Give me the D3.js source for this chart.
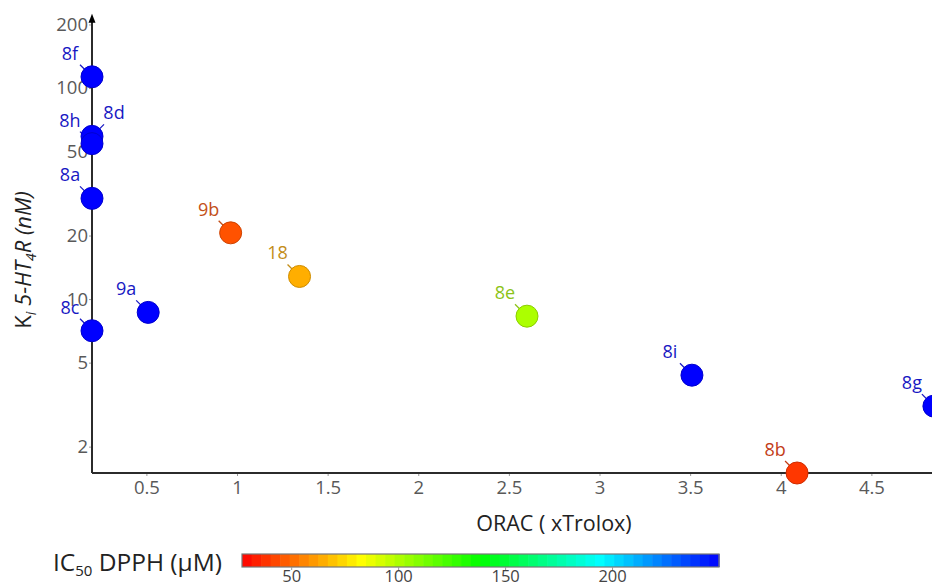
<!DOCTYPE html>
<html><head><meta charset="utf-8">
<script src="https://cdn.jsdelivr.net/npm/d3@7"></script>
<style>
html,body{margin:0;padding:0;background:#fff;}
svg{display:block;font-family:"Open Sans",sans-serif;}
</style></head>
<body>
<svg id="chart" width="932" height="587"></svg>
<script>
// ---- data ----
const compounds = ["8f","8d","8h","8a","9b","18","9a","8c","8e","8i","8g","8b"];
const orac      = [0.2, 0.2, 0.2, 0.2, 0.965, 1.345, 0.51, 0.2, 2.60, 3.51, 4.845, 4.09];
const ki        = [113, 59, 54.5, 30, 20.6, 12.8, 8.65, 7.08, 8.3, 4.36, 3.11, 1.5];
const dpph      = [250, 250, 250, 250, 45, 65, 250, 250, 101, 250, 250, 39];
const labelSide = ["left","right","left","left","left","left","left","left","left","left","left","left"];
const xTicks = [0.5, 1, 1.5, 2, 2.5, 3, 3.5, 4, 4.5];
const yTicks = [2, 5, 10, 20, 50, 100, 200];
const cbTicks = [50, 100, 150, 200];

const svg = d3.select("#chart");
const x = d3.scaleLinear().domain([0.2, 5]).range([92, 962]);
const y = d3.scaleLog().domain([1.5, 100]).range([473, 88]);
const dMin = 27, dMax = 250;
const color = v => d3.hsl(240 * (Math.min(Math.max(v, dMin), dMax) - dMin) / (dMax - dMin), 1, 0.5).toString();
const labColor = v => { const h = d3.hsl(color(v)); h.s = 0.78; h.l = 0.43; return h.toString(); };

// axes
const gx = svg.append("g").attr("transform", `translate(0,${y(1.5)})`)
  .call(d3.axisBottom(x).tickValues(xTicks).tickFormat(d3.format("")).tickSize(3).tickPadding(5));
gx.select(".domain").remove();
gx.selectAll("line").attr("stroke", "#999");
gx.selectAll("text").attr("fill", "#595959").style("font-size", "18.5px").style("font-family", "Open Sans");

const gy = svg.append("g").attr("transform", `translate(${x(0.2)},0)`)
  .call(d3.axisLeft(y).tickValues(yTicks).tickFormat(d3.format("")).tickSize(3).tickPadding(1));
gy.select(".domain").remove();
gy.selectAll("line").attr("stroke", "#999");
gy.selectAll("text").attr("fill", "#595959").style("font-size", "18.5px").style("font-family", "Open Sans");

// axis lines
svg.append("line").attr("x1", x(0.2)).attr("x2", 932).attr("y1", y(1.5)).attr("y2", y(1.5))
  .attr("stroke", "#2b2b2b").attr("stroke-width", 2);
const yTop = y(225);
svg.append("line").attr("x1", x(0.2)).attr("x2", x(0.2)).attr("y1", y(1.5)).attr("y2", yTop + 4)
  .attr("stroke", "#2b2b2b").attr("stroke-width", 2);
svg.append("path").attr("d", `M${x(0.2)},${yTop} l-3.5,9 l7,0 z`).attr("fill", "#000");

// axis titles
svg.append("text").attr("x", 554).attr("y", 531).attr("text-anchor", "middle")
  .attr("fill", "#222").style("font-size", "21.5px").text("ORAC ( xTrolox)");

const yt = svg.append("text").attr("transform", "translate(31,260) rotate(-90)")
  .attr("text-anchor", "middle").attr("fill", "#222").style("font-size", "22px");
yt.append("tspan").text("K");
yt.append("tspan").attr("font-style", "italic").attr("font-size", "14px").attr("dy", 5).text("i");
yt.append("tspan").attr("font-style", "italic").attr("dy", -5).text(" 5-HT");
yt.append("tspan").attr("font-style", "italic").attr("font-size", "14px").attr("dy", 5).text("4");
yt.append("tspan").attr("font-style", "italic").attr("dy", -5).text("R (nM)");

// points
const pts = compounds.map((c, i) => ({c, x: orac[i], y: ki[i], d: dpph[i], side: labelSide[i]}));
const g = svg.append("g");
pts.forEach(p => {
  const cx = x(p.x), cy = y(p.y);
  const lab = labColor(p.d);
  const sx = p.side === "left" ? -1 : 1;
  g.append("line").attr("x1", cx + sx * 12).attr("y1", cy - 12).attr("x2", cx).attr("y2", cy)
    .attr("stroke", lab).attr("stroke-width", 1.3);
  g.append("text").attr("x", cx + sx * 22).attr("y", cy - 17).attr("text-anchor", "middle")
    .attr("fill", lab).style("font-size", "18px").text(p.c);
});
pts.forEach(p => {
  const fill = color(p.d);
  g.append("circle").attr("cx", x(p.x)).attr("cy", y(p.y)).attr("r", 11)
    .attr("fill", fill).attr("stroke", d3.color(fill).darker(0.6).toString()).attr("stroke-width", 1);
});

// colorbar
const cb = d3.scaleLinear().domain([dMin, dMax]).range([242, 719]);
const nSteps = 50;
const stepW = (719 - 242) / nSteps;
const cbg = svg.append("g");
d3.range(nSteps).forEach(i => {
  const v = dMin + (i + 0.5) * (dMax - dMin) / nSteps;
  cbg.append("rect").attr("x", 242 + i * stepW).attr("y", 554).attr("width", stepW + 0.6).attr("height", 13)
    .attr("fill", color(v));
});
cbg.append("rect").attr("x", 242).attr("y", 554).attr("width", 477).attr("height", 13)
  .attr("fill", "none").attr("stroke", "#777").attr("stroke-width", 1.2);
const gcb = svg.append("g").attr("transform", "translate(0,567)")
  .call(d3.axisBottom(cb).tickValues(cbTicks).tickSize(3).tickPadding(0));
gcb.select(".domain").remove();
gcb.selectAll("line").attr("stroke", "#999");
gcb.selectAll("text").attr("fill", "#444").attr("dy", null).attr("y", 15)
  .style("font-size", "16.5px").style("font-family", "Open Sans");

const cl = svg.append("text").attr("x", 222).attr("y", 571).attr("text-anchor", "end")
  .attr("fill", "#222").style("font-size", "24.5px");
cl.append("tspan").text("IC");
cl.append("tspan").attr("font-size", "15px").attr("dy", 5).text("50");
cl.append("tspan").attr("dy", -5).text(" DPPH (μM)");
</script>
</body></html>
